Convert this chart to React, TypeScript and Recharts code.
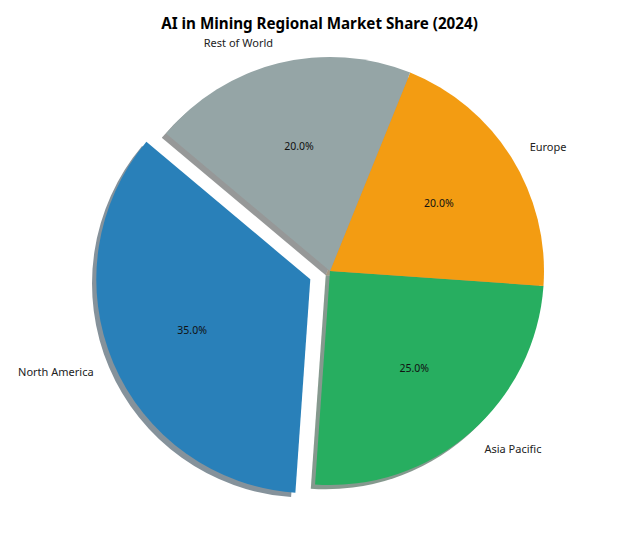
import React from "react"
import { PieChart, Pie, Cell } from "recharts"

const regions = ["North America", "Asia Pacific", "Europe", "Rest of World"]
const shares = [35, 25, 20, 20]
const colors = ["#2980b9", "#27ae60", "#f39c12", "#95a5a6"]
const explode = [0.1, 0, 0, 0]

const W = 625
const H = 545
const CX = 330
const CY = 271
const R = 214
const START = 140
const SHADOW = 0.02 * R
const RADIAN = Math.PI / 180

const data = regions.map((name, i) => ({ name, value: shares[i] }))
const total = shares.reduce((a, b) => a + b, 0)

// offset of every wedge, like matplotlib's explode
const offsets = shares.map((v, i) => {
    const before = shares.slice(0, i).reduce((a, b) => a + b, 0)
    const mid = START + ((before + v / 2) / total) * 360
    const d = explode[i] * R
    return { dx: d * Math.cos(mid * RADIAN), dy: -d * Math.sin(mid * RADIAN) }
})

const shadowColor = (hex: string) => {
    const n = parseInt(hex.slice(1), 16)
    const r = Math.round(((n >> 16) & 255) * 0.3)
    const g = Math.round(((n >> 8) & 255) * 0.3)
    const b = Math.round((n & 255) * 0.3)
    return `rgb(${r},${g},${b})`
}

const makeLabel = (only: number) => (props: any) => {
    const { cx, cy, midAngle, outerRadius, name, percent, index } = props
    if (index !== only) return null
    const cos = Math.cos(-midAngle * RADIAN)
    const sin = Math.sin(-midAngle * RADIAN)
    const ro = outerRadius * 1.1
    const rp = outerRadius * 0.6
    return (
        <g>
            <text
                x={cx + ro * cos}
                y={cy + ro * sin}
                textAnchor={cos >= 0 ? "start" : "end"}
                dominantBaseline="central"
                fontFamily="Noto Sans"
                fontSize={11}
                fill="#222"
            >
                {name}
            </text>
            <text
                x={cx + rp * cos}
                y={cy + rp * sin}
                textAnchor="middle"
                dominantBaseline="central"
                fontFamily="Noto Sans"
                fontSize={10.5}
                fill="#111"
            >
                {(percent * 100).toFixed(1)}%
            </text>
        </g>
    )
}

export default function App() {
    return (
        <div style={{ position: "absolute", left: 0, top: 0, width: W, height: H, background: "#fff" }}>
            <div
                style={{
                    position: "absolute",
                    left: 0,
                    width: 639,
                    top: 12,
                    textAlign: "center",
                    fontFamily: "Noto Sans",
                    fontWeight: 700,
                    fontSize: 15.2,
                    lineHeight: "22px",
                    color: "#000",
                }}
            >
                AI in Mining Regional Market Share (2024)
            </div>
            <PieChart width={W} height={H} margin={{ top: 0, right: 0, bottom: 0, left: 0 }}>
                {regions.map((_, i) => (
                    <Pie
                        key={"shadow" + i}
                        data={data}
                        dataKey="value"
                        nameKey="name"
                        cx={CX + offsets[i].dx - SHADOW}
                        cy={CY + offsets[i].dy + SHADOW}
                        outerRadius={R}
                        startAngle={START}
                        endAngle={START + 360}
                        stroke="none"
                        isAnimationActive={false}
                        labelLine={false}
                    >
                        {data.map((_, j) => (
                            <Cell key={j} fill={shadowColor(colors[j])} fillOpacity={j === i ? 0.5 : 0} />
                        ))}
                    </Pie>
                ))}
                {regions.map((_, i) => (
                    <Pie
                        key={"wedge" + i}
                        data={data}
                        dataKey="value"
                        nameKey="name"
                        cx={CX + offsets[i].dx}
                        cy={CY + offsets[i].dy}
                        outerRadius={R}
                        startAngle={START}
                        endAngle={START + 360}
                        stroke="none"
                        isAnimationActive={false}
                        labelLine={false}
                        label={makeLabel(i)}
                    >
                        {data.map((_, j) => (
                            <Cell key={j} fill={colors[j]} fillOpacity={j === i ? 1 : 0} />
                        ))}
                    </Pie>
                ))}
            </PieChart>
        </div>
    )
}
